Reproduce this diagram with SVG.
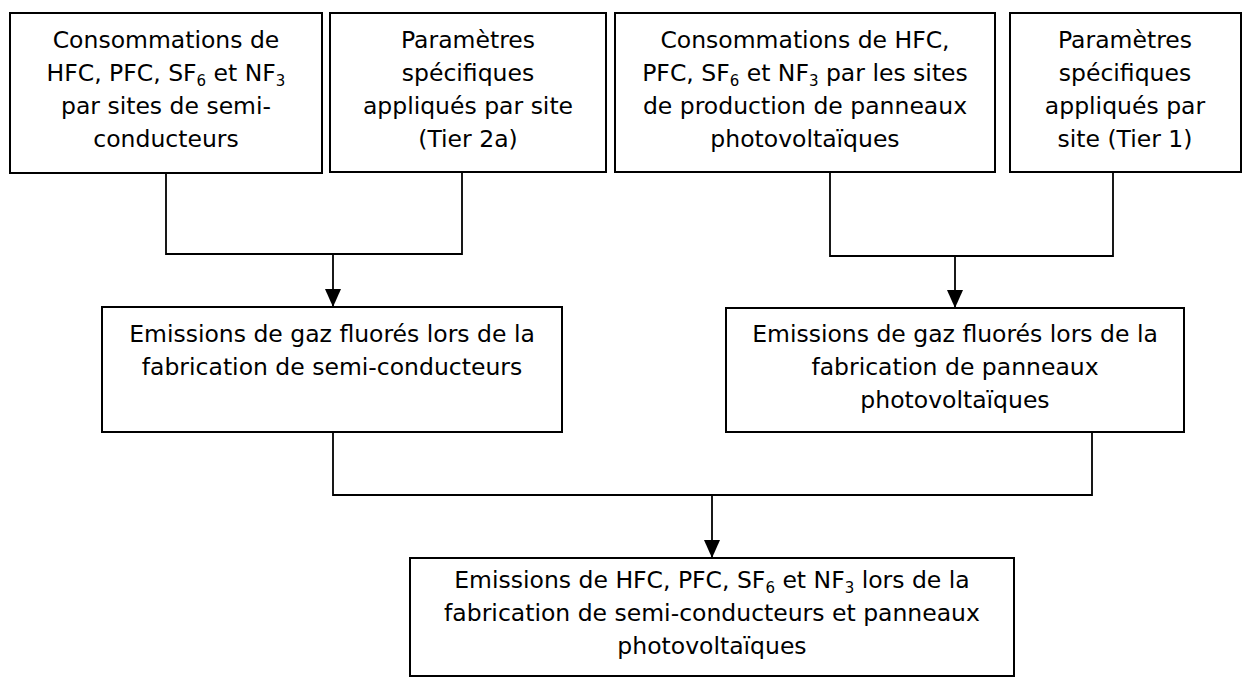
<svg xmlns="http://www.w3.org/2000/svg" width="1243" height="678" viewBox="0 0 1243 678">
  <style>
    .box { fill: #ffffff; stroke: #000000; stroke-width: 2; }
    .lbl { font-family: "DejaVu Sans", "Liberation Sans", sans-serif; font-size: 23.5px; fill: #000000; text-anchor: middle; }
    .sub { font-size: 15px; }
    .wire { fill: none; stroke: #000000; stroke-width: 1.8; }
  </style>
  <defs>
    <marker id="arrow" markerUnits="userSpaceOnUse" markerWidth="18" markerHeight="18" viewBox="0 0 18 18" refX="17" refY="9" orient="auto">
      <path d="M0,1 L18,9 L0,17 Z" fill="#000000"/>
    </marker>
  </defs>

  <rect x="0" y="0" width="1243" height="678" fill="#ffffff"/>

  <!-- connectors -->
  <g id="connectors">
    <path class="wire" d="M166,173 V254 H462 V172"/>
    <path class="wire" d="M333,254 V306" marker-end="url(#arrow)"/>
    <path class="wire" d="M830,172 V256 H1113 V172"/>
    <path class="wire" d="M955,256 V307" marker-end="url(#arrow)"/>
    <path class="wire" d="M333,432 V495 H1092 V432"/>
    <path class="wire" d="M712,495 V557" marker-end="url(#arrow)"/>
  </g>

  <!-- top row -->
  <g id="conso-semi">
    <rect class="box" x="10" y="13" width="312" height="160"/>
    <text class="lbl" x="166" y="48">Consommations de</text>
    <text class="lbl" x="166" y="81">HFC, PFC, SF<tspan class="sub" dy="5">6</tspan><tspan dy="-5"> et NF</tspan><tspan class="sub" dy="5">3</tspan></text>
    <text class="lbl" x="166" y="114">par sites de semi-</text>
    <text class="lbl" x="166" y="147">conducteurs</text>
  </g>

  <g id="param-tier2a">
    <rect class="box" x="330" y="13" width="276" height="159"/>
    <text class="lbl" x="468" y="48">Paramètres</text>
    <text class="lbl" x="468" y="81">spécifiques</text>
    <text class="lbl" x="468" y="114">appliqués par site</text>
    <text class="lbl" x="468" y="147">(Tier 2a)</text>
  </g>

  <g id="conso-pv">
    <rect class="box" x="615" y="13" width="380" height="159"/>
    <text class="lbl" x="805" y="48">Consommations de HFC,</text>
    <text class="lbl" x="805" y="81">PFC, SF<tspan class="sub" dy="5">6</tspan><tspan dy="-5"> et NF</tspan><tspan class="sub" dy="5">3</tspan><tspan dy="-5"> par les sites</tspan></text>
    <text class="lbl" x="805" y="114">de production de panneaux</text>
    <text class="lbl" x="805" y="147">photovoltaïques</text>
  </g>

  <g id="param-tier1">
    <rect class="box" x="1010" y="13" width="231" height="159"/>
    <text class="lbl" x="1125" y="48">Paramètres</text>
    <text class="lbl" x="1125" y="81">spécifiques</text>
    <text class="lbl" x="1125" y="114">appliqués par</text>
    <text class="lbl" x="1125" y="147">site (Tier 1)</text>
  </g>

  <!-- middle row -->
  <g id="emis-semi">
    <rect class="box" x="102" y="307" width="460" height="125"/>
    <text class="lbl" x="332" y="342">Emissions de gaz fluorés lors de la</text>
    <text class="lbl" x="332" y="375">fabrication de semi-conducteurs</text>
  </g>

  <g id="emis-pv">
    <rect class="box" x="726" y="308" width="458" height="124"/>
    <text class="lbl" x="955" y="342">Emissions de gaz fluorés lors de la</text>
    <text class="lbl" x="955" y="375">fabrication de panneaux</text>
    <text class="lbl" x="955" y="408">photovoltaïques</text>
  </g>

  <!-- bottom -->
  <g id="emis-total">
    <rect class="box" x="410" y="558" width="604" height="118"/>
    <text class="lbl" x="712" y="588">Emissions de HFC, PFC, SF<tspan class="sub" dy="5">6</tspan><tspan dy="-5"> et NF</tspan><tspan class="sub" dy="5">3</tspan><tspan dy="-5"> lors de la</tspan></text>
    <text class="lbl" x="712" y="621">fabrication de semi-conducteurs et panneaux</text>
    <text class="lbl" x="712" y="654">photovoltaïques</text>
  </g>
</svg>
